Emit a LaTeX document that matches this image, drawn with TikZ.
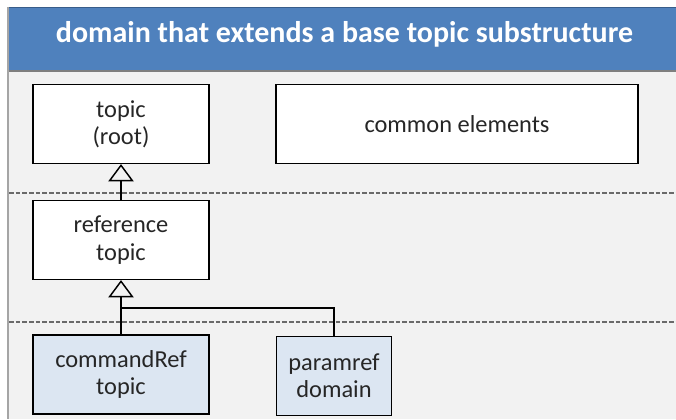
\documentclass[tikz,border=0pt]{standalone}
\usepackage{fontspec}
\setmainfont{Carlito}
\usetikzlibrary{arrows.meta,positioning}
\definecolor{hdrblue}{HTML}{4F81BD}
\definecolor{hdrdark}{HTML}{385D8A}
\definecolor{panelgray}{HTML}{F2F2F2}
\definecolor{edgegray}{HTML}{7F7F7F}
\definecolor{dashgray}{HTML}{6A6A6A}
\definecolor{specblue}{HTML}{DCE6F2}
\definecolor{txtgray}{HTML}{262626}

\begin{document}
\begin{tikzpicture}[x=0.75pt,y=-0.75pt,
		box/.style={rectangle, draw, line width=1.1pt, fill=white, align=center, minimum width=132pt, minimum height=59pt, font=\fontsize{18.3}{20.5}\selectfont, text=txtgray},
		specbox/.style={box, fill=specblue},
		gen/.style={-{Triangle[open, length=13pt, width=19pt, line width=1.1pt]}, line width=1.1pt},
		layer/.style={dashgray, line width=1.9pt, dash pattern=on 3.5pt off 1.5pt}]
		\useasboundingbox (0,0) rectangle (676,419);
		% frame and title band
		\fill[panelgray] (8,72) rectangle (676,419);
		\fill[hdrblue] (8,7) rectangle (676,70);
		\draw[hdrdark, line width=1.2pt] (8,7.5) -- (676,7.5);
		\draw[edgegray, line width=1.5pt] (8,71) -- (676,71);
		\draw[edgegray!70, line width=1pt] (8,7) -- (8,419);
		\node[anchor=base, text=white, font=\fontsize{22.5}{26}\selectfont\bfseries] (title) at (344.5,42) {domain that extends a base topic substructure};
		
		% layer separators
		\draw[layer] (9,193) -- (676,193);
		\draw[layer] (9,322) -- (676,322);
		
		\node[box] (root) at (121,124) {topic\\(root)};
		\node[box, minimum width=271.5pt] (common) at (457,124) {common elements};
		\node[box] (ref) at (121,240) {reference\\topic};
		\node[specbox] (cmdref) at (121,374.5) {commandRef\\topic};
		\node[specbox, minimum width=86.6pt, minimum height=59.6pt] (paramref) at (334,376) {paramref\\domain};
		
		\coordinate (join) at (121,308);
		\draw[gen] (ref) -- (root);
		\draw[gen] (cmdref) -- (ref);
		\draw[line width=1.1pt] (paramref) |- (join);
	\end{tikzpicture}
\end{document}
